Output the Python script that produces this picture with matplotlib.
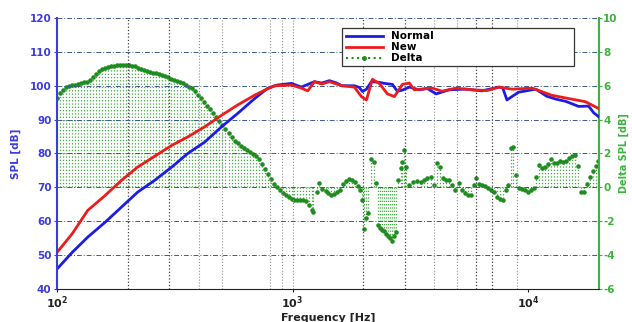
import matplotlib
matplotlib.use('Agg')
import matplotlib.pyplot as plt
from matplotlib.lines import Line2D

plt.rcParams['font.family'] = ['DejaVu Sans']
plt.rcParams['axes.unicode_minus'] = False

# SPL of the normal driver (blue)
freq_normal = [100, 116, 135, 160, 188, 220, 260, 307, 359, 424, 500, 584, 690, 782, 860, 990,
               1090, 1170, 1239, 1330, 1434, 1540, 1618, 1830, 1920, 1981, 2060, 2161, 2335,
               2455, 2654, 2784, 2924, 3131, 3450, 3730, 4071, 4620, 5453, 6363, 7522, 7800,
               8131, 8536, 9118, 10780, 12000, 13200, 14440, 16390, 18065, 19000, 19900]
spl_normal = [45.9, 50.8, 55.3, 59.7, 64.2, 68.6, 72.1, 76.0, 80.0, 83.4, 87.9, 91.8, 96.2, 99.2, 100.2, 100.7,
              99.6, 100.5, 101.2, 100.8, 101.5, 100.8, 100.0, 100.0, 99.5, 98.3, 99.0, 101.2, 101.0,
              100.7, 100.4, 98.4, 98.7, 99.6, 98.8, 99.2, 97.6, 98.8, 99.0, 98.5, 99.6, 99.4,
              95.8, 96.8, 98.1, 99.0, 96.9, 96.0, 95.4, 93.9, 94.0, 92.0, 90.9]

# SPL of the new driver (red)
freq_new = [100, 116, 135, 160, 188, 220, 260, 307, 359, 424, 500, 584, 690, 762, 840, 990,
            1090, 1160, 1239, 1330, 1434, 1618, 1830, 1960, 2059, 2183, 2335, 2527, 2706,
            2924, 3131, 3287, 3916, 4316, 4946, 5783, 6700, 7522, 8536, 10400, 12600, 14913,
            17500, 19900]
spl_new = [50.8, 56.3, 63.2, 67.6, 72.1, 76.0, 79.2, 82.4, 84.9, 87.9, 91.3, 94.3, 97.2, 98.7, 100.0, 100.2,
           99.3, 98.5, 101.2, 100.5, 101.2, 100.0, 99.6, 96.8, 95.8, 101.9, 100.7, 97.6, 96.8,
           100.4, 100.8, 98.8, 99.3, 98.4, 99.3, 98.8, 98.6, 99.6, 99.0, 99.3, 97.2, 96.2,
           95.3, 93.3]

# difference new - normal, right axis
freq_delta = [100, 103, 106, 109, 112, 116, 119, 123, 126, 130, 134, 138, 142, 146, 151, 155,
              160, 164, 169, 174, 180, 185, 191, 196, 202, 208, 214, 221, 227, 234, 241, 248,
              255, 263, 271, 279, 287, 296, 305, 314, 323, 333, 343, 353, 364, 375, 386, 398,
              410, 422, 435, 448, 461, 475, 489, 504, 519, 535, 551, 567, 584, 602, 620, 638,
              657, 677, 697, 718, 740, 762, 785, 809, 833, 858, 884, 910, 937, 965, 994,
              1010, 1040, 1071, 1103, 1136, 1170, 1205, 1227, 1264, 1301, 1340, 1380, 1421,
              1463, 1506, 1551, 1597, 1645, 1693, 1744, 1795, 1849, 1904, 1942, 1980, 2019,
              2059, 2099, 2161, 2226, 2270, 2314, 2360, 2407, 2454, 2502, 2552, 2602, 2653,
              2706, 2759, 2813, 2896, 2924, 2982, 3040, 3133, 3256, 3385, 3521, 3626, 3731,
              3882, 3994, 4116, 4233, 4364, 4487, 4627, 4757, 4905, 5100, 5253, 5395, 5569,
              5718, 5904, 6003, 6199, 6363, 6573, 6746, 6969, 7151, 7389, 7580, 7835, 8035,
              8228, 8472, 8601, 8896, 9160, 9388, 9712, 10000, 10297, 10603, 10810, 11133,
              11463, 11800, 12150, 12515, 12886, 13268, 13661, 14071, 14483, 14918, 15355,
              15817, 16279, 16770, 17259, 17783, 18298, 18855, 19400, 19900]
delta = [5.3, 5.55, 5.75, 5.9, 5.99, 6.05, 6.07, 6.1, 6.16, 6.22, 6.25, 6.34, 6.5, 6.7, 6.87, 6.99,
         7.05, 7.1, 7.14, 7.17, 7.2, 7.21, 7.21, 7.2, 7.2, 7.17, 7.14, 7.05, 6.99, 6.93, 6.87, 6.83,
         6.78, 6.75, 6.7, 6.64, 6.55, 6.49, 6.42, 6.36, 6.3, 6.22, 6.15, 6.05, 5.95, 5.85, 5.68, 5.48,
         5.25, 5.02, 4.8, 4.6, 4.4, 4.15, 3.9, 3.68, 3.45, 3.2, 2.95, 2.75, 2.6, 2.45, 2.32, 2.2,
         2.1, 1.98, 1.85, 1.65, 1.4, 1.1, 0.8, 0.5, 0.22, 0.0, -0.15, -0.33, -0.45, -0.57, -0.69,
         -0.74, -0.74, -0.74, -0.72, -0.8, -1.04, -1.33, -1.45, -0.27, 0.26, -0.1, -0.21, -0.33,
         -0.45, -0.39, -0.27, -0.15, 0.2, 0.38, 0.5, 0.44, 0.32, 0.08, -0.15, -0.74, -2.46,
         -1.8, -1.5, 1.69, 1.5, 0.26, -2.2, -2.4, -2.5, -2.57, -2.74, -2.86, -2.98, -3.16,
         -2.86, -2.63, 0.44, 1.15, 1.5, 2.2, 1.2, 0.15, 0.32, 0.35, 0.32, 0.44, 0.56,
         0.6, 0.15, 1.45, 1.2, 0.55, 0.45, 0.45, 0.15, -0.15, 0.25, -0.15, -0.35, -0.45,
         -0.45, 0.15, 0.55, 0.2, 0.15, 0.08, -0.04, -0.15, -0.27, -0.55, -0.7, -0.75, -0.15,
         0.15, 2.3, 2.4, 0.75, -0.05, -0.1, -0.15, -0.25, -0.15, -0.05, 0.6, 1.3,
         1.15, 1.2, 1.4, 1.7, 1.45, 1.45, 1.55, 1.5, 1.55, 1.75, 1.85,
         1.9, 1.25, -0.25, -0.25, 0.2, 0.6, 0.95, 1.25, 1.55]

grid_dark = [200, 300, 2000, 3000, 6000, 7000]
grid_light = [400, 500, 800, 900, 1000, 4000, 5000, 9000]

blue = '#1c1ce6'
red = '#ec1c1c'
green = '#1e8c1e'
tick_blue = '#3c3cdc'
tick_green = '#3cb43c'

fig = plt.figure(figsize=(6.32, 3.22), dpi=100)
ax = fig.add_axes([0.0902, 0.1025, 0.8576, 0.8416])
ax2 = ax.twinx()

# delta as dotted stems with dots on top
ax2.vlines(freq_delta, 0, delta, colors='#3ea83e', linestyles=':', linewidth=0.9)
ax2.plot(freq_delta, delta, '.', color=green, ms=4.5)
ax2.set_ylim(-6, 10)
ax2.set_yticks(range(-6, 11, 2))

ax.set_zorder(ax2.get_zorder() + 1)
ax.patch.set_visible(False)

for f in grid_dark:
    ax.axvline(f, color='#404040', ls=':', lw=0.9, zorder=0)
for f in grid_light:
    ax.axvline(f, color='#909090', ls=':', lw=0.8, zorder=0)
ax.grid(axis='y', color='#3c5a8c', ls=(0, (5, 2, 1, 2)), lw=0.7)
ax.set_axisbelow(True)

ax.plot(freq_normal, spl_normal, color=blue, lw=2)
ax.plot(freq_new, spl_new, color=red, lw=2)

ax.set_xscale('log')
ax.set_xlim(100, 20000)
ax.set_ylim(40, 120)
ax.set_yticks(range(40, 121, 10))
ax.set_xticks([100, 1000, 10000])
ax.set_xticklabels([r'$\mathbf{10^{2}}$', r'$\mathbf{10^{3}}$', r'$\mathbf{10^{4}}$'])
ax.xaxis.set_minor_locator(matplotlib.ticker.NullLocator())

ax.tick_params(axis='y', colors=tick_blue, labelsize=7.5, length=2, pad=2)
ax.tick_params(axis='x', colors='#222222', labelsize=8, length=2, pad=2)
ax2.tick_params(axis='y', colors=tick_green, labelsize=7.5, length=2, pad=1)
for lab in ax.get_yticklabels() + ax2.get_yticklabels():
    lab.set_fontweight('bold')

ax.set_xlabel('Frequency [Hz]', fontsize=8, fontweight='bold', color='#222222', labelpad=1)
ax.set_ylabel('SPL [dB]', fontsize=7.5, fontweight='bold', color=tick_blue, labelpad=6)
ax2.set_ylabel('Delta SPL [dB]', fontsize=7, fontweight='bold', color=tick_green, labelpad=1)

for s in ['top', 'right']:
    ax.spines[s].set_visible(False)
ax.spines['left'].set_color(tick_blue)
ax.spines['left'].set_linewidth(1.5)
ax.spines['bottom'].set_color('#222222')
for s in ['top', 'left', 'bottom']:
    ax2.spines[s].set_visible(False)
ax2.spines['right'].set_color(tick_green)
ax2.spines['right'].set_linewidth(1.5)

handles = [Line2D([], [], color=blue, lw=2),
           Line2D([], [], color=red, lw=2),
           Line2D([], [], color=green, ls=':', marker='.', ms=5)]
leg = ax.legend(handles, ['Normal', 'New', 'Delta'], loc='upper left',
                bbox_to_anchor=(0.517, 0.815, 0.446, 0.167), mode='expand',
                fancybox=False, framealpha=1, edgecolor='#333333', handlelength=3.6,
                borderpad=0.3, labelspacing=0.1, prop={'weight': 'bold', 'size': 7.5})
leg.get_frame().set_linewidth(0.9)

fig.savefig('out.png', dpi=100)
